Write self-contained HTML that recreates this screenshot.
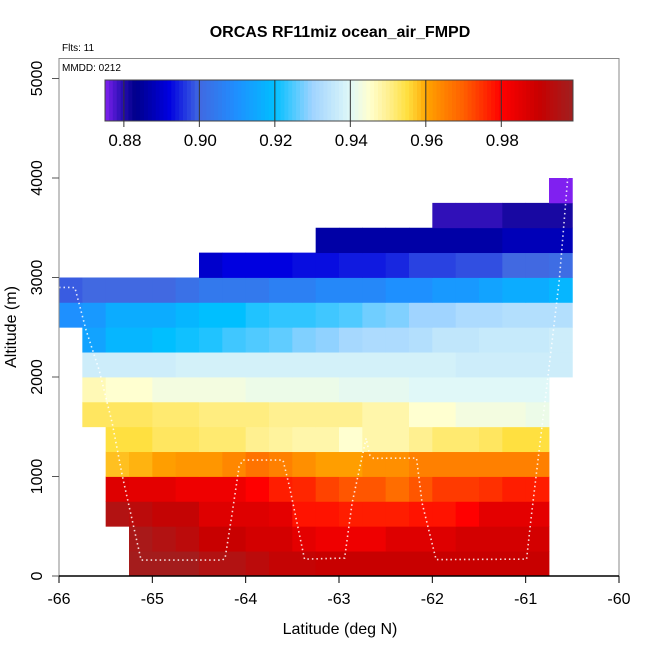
<!DOCTYPE html>
<html><head><meta charset="utf-8"><style>
html,body{margin:0;padding:0;background:#fff;}
svg{display:block;font-family:"Liberation Sans",Arial,sans-serif;}
</style></head><body>
<svg id="chart" width="650" height="650" viewBox="0 0 650 650" xmlns="http://www.w3.org/2000/svg">
<text x="340" y="37" text-anchor="middle" font-size="16" font-weight="bold">ORCAS RF11miz ocean_air_FMPD</text>
<text x="62" y="51" font-size="10">Flts: 11</text>
<g id="heat"></g>
<g id="track"></g>
<rect x="59" y="58.5" width="560" height="517.5" fill="none" stroke="#888" stroke-width="1"/>
<text x="62" y="71" font-size="10">MMDD: 0212</text>
<g id="cbar"></g>
<line x1="59" y1="576" x2="619" y2="576" stroke="#000" stroke-width="1.5"/>
<g id="axes"></g>
<text x="340" y="634" text-anchor="middle" font-size="16">Latitude (deg N)</text>
<text transform="translate(16,327) rotate(-90)" text-anchor="middle" font-size="16">Altitude (m)</text>
</svg>
<script>
// ---- data ----
const rowStartCol = [3,3,2,2,2,2,1,1,1,1,0,0,6,11,16,21];
const rowValues = [
 [0.998,0.998,0.998,0.995,0.995,0.993,0.991,0.991,0.990,0.990,0.990,0.990,0.990,0.990,0.990,0.990,0.990,0.990],
 [0.997,0.995,0.993,0.990,0.990,0.988,0.988,0.985,0.983,0.983,0.983,0.986,0.986,0.986,0.988,0.988,0.988,0.988],
 [0.995,0.993,0.991,0.991,0.986,0.986,0.986,0.985,0.978,0.978,0.977,0.977,0.977,0.978,0.978,0.980,0.985,0.985,0.985],
 [0.986,0.985,0.985,0.983,0.983,0.983,0.980,0.977,0.976,0.973,0.971,0.971,0.968,0.971,0.974,0.974,0.975,0.977,0.977],
 [0.958,0.959,0.961,0.962,0.962,0.964,0.967,0.965,0.963,0.961,0.961,0.963,0.963,0.965,0.965,0.965,0.965,0.965,0.965],
 [0.955,0.955,0.953,0.953,0.952,0.952,0.950,0.949,0.948,0.948,0.945,0.948,0.948,0.950,0.952,0.952,0.953,0.955,0.955],
 [0.953,0.953,0.953,0.952,0.952,0.951,0.951,0.951,0.950,0.950,0.950,0.950,0.948,0.948,0.945,0.945,0.943,0.943,0.943,0.942],
 [0.947,0.945,0.945,0.943,0.943,0.943,0.943,0.942,0.942,0.942,0.942,0.941,0.941,0.941,0.940,0.940,0.940,0.940,0.940,0.940],
 [0.937,0.937,0.937,0.937,0.938,0.938,0.938,0.938,0.938,0.938,0.938,0.938,0.938,0.938,0.938,0.938,0.937,0.937,0.937,0.937,0.937],
 [0.914,0.918,0.918,0.920,0.921,0.922,0.924,0.925,0.926,0.928,0.929,0.931,0.932,0.932,0.933,0.935,0.935,0.936,0.936,0.936,0.937],
 [0.910,0.912,0.916,0.916,0.916,0.918,0.920,0.920,0.922,0.923,0.923,0.924,0.925,0.927,0.928,0.930,0.930,0.932,0.932,0.933,0.933,0.933],
 [0.899,0.900,0.900,0.900,0.900,0.902,0.904,0.904,0.904,0.906,0.906,0.908,0.908,0.908,0.910,0.910,0.912,0.912,0.914,0.916,0.916,0.918],
 [0.890,0.892,0.892,0.892,0.893,0.893,0.894,0.894,0.895,0.897,0.897,0.898,0.898,0.900,0.900,0.901],
 [0.886,0.886,0.886,0.886,0.886,0.886,0.886,0.886,0.888,0.888,0.888],
 [0.879,0.879,0.879,0.881,0.881,0.881],
 [0.875]
];
const trackLon = [-66,-65.87,-65.83,-65.71,-65.57,-65.43,-65.32,-65.12,-64.25,-64.22,-64.15,-64.07,-64.03,-63.6,-63.53,-63.37,-62.94,-62.86,-62.71,-62.67,-62.63,-62.17,-62.11,-61.96,-60.99,-60.94,-60.74,-60.64,-60.55];
const trackAlt = [2900,2900,2897,2470,2070,1537,998,160,160,180,600,1100,1165,1165,897,170,180,733,1384,1215,1183,1185,733,165,170,600,2170,2975,4000];
const xTicks = [-66,-65,-64,-63,-62,-61,-60];
const yTicks = [0,1000,2000,3000,4000,5000];
const cbTicks = [0.88,0.90,0.92,0.94,0.96,0.98];
const cellW = 0.25, cellH = 250, gridLon0 = -66;
const vmin = 0.875, vmax = 0.999;
// ---- scales ----
const X = lon => 59 + (lon + 66) * 93.333;
const Y = alt => 576 - alt * 0.0995;
const CB = v => 105 + (v - vmin) / (vmax - vmin) * 468;
const stops = [[0.875,'#8020f0'],[0.879,'#3010b8'],[0.883,'#00008b'],[0.888,'#0000b8'],[0.892,'#0000e0'],[0.90,'#4169e1'],[0.91,'#1e90ff'],[0.92,'#00bfff'],[0.93,'#a0d4ff'],[0.94,'#e0f8f8'],[0.945,'#ffffd0'],[0.95,'#fff090'],[0.955,'#ffe040'],[0.958,'#ffc020'],[0.96,'#ffa500'],[0.965,'#ff8000'],[0.97,'#ff6000'],[0.98,'#ff0000'],[0.99,'#c80000'],[0.999,'#a02020']];
function hex(h){return [1,3,5].map(i=>parseInt(h.substr(i,2),16));}
function color(v){
  if(v<=stops[0][0]) return stops[0][1];
  for(let i=1;i<stops.length;i++){
    if(v<=stops[i][0]){
      const a=hex(stops[i-1][1]),b=hex(stops[i][1]),t=(v-stops[i-1][0])/(stops[i][0]-stops[i-1][0]);
      return 'rgb('+a.map((c,k)=>Math.round(c+(b[k]-c)*t)).join(',')+')';
    }
  }
  return stops[stops.length-1][1];
}
const NS='http://www.w3.org/2000/svg';
function mk(tag,attrs,parent){const e=document.createElementNS(NS,tag);for(const k in attrs)e.setAttribute(k,attrs[k]);parent.appendChild(e);return e;}
// ---- heatmap ----
const heat=document.getElementById('heat');
rowValues.forEach((vals,r)=>{
  vals.forEach((v,j)=>{
    const c=rowStartCol[r]+j;
    const lon=gridLon0+c*cellW, alt=r*cellH;
    const x0=X(lon), x1=X(lon+cellW), y0=Y(alt+cellH), y1=Y(alt);
    const el=mk('rect',{x:x0.toFixed(2),y:y0.toFixed(2),width:(x1-x0+0.4).toFixed(2),height:(y1-y0+0.4).toFixed(2),fill:color(v)},heat);
    
    
  });
});
// ---- track ----
const tr=document.getElementById('track');
const pl=mk('polyline',{points:trackLon.map((l,i)=>X(l).toFixed(1)+','+Y(trackAlt[i]).toFixed(1)).join(' '),fill:'none',stroke:'#fff','stroke-width':'1.6','stroke-dasharray':'1.5 3',opacity:'0.85'},tr);


// ---- axes ----
const ax=document.getElementById('axes');
xTicks.forEach(t=>{
  const l=mk('line',{x1:X(t),y1:576,x2:X(t),y2:583,stroke:'#000','stroke-width':'1'},ax);
  
  
  const tx=mk('text',{x:X(t),y:604,'text-anchor':'middle','font-size':'16'},ax);
  tx.textContent=String(t);
  
  
});
yTicks.forEach(t=>{
  const l=mk('line',{x1:52,y1:Y(t),x2:59,y2:Y(t),stroke:'#555','stroke-width':'1'},ax);
  
  
  const tx=mk('text',{transform:'translate(42,'+Y(t)+') rotate(-90)','text-anchor':'middle','font-size':'16'},ax);
  tx.textContent=String(t);
  
  
});
// ---- colorbar ----
const cb=document.getElementById('cbar');
const N=120;
for(let i=0;i<N;i++){
  const v=vmin+(vmax-vmin)*(i+0.5)/N;
  const x0=105+468*i/N;
  const r=mk('rect',{x:x0.toFixed(2),y:80,width:(468/N+0.5).toFixed(2),height:41,fill:color(v)},cb);
  
  
}
const fr=mk('rect',{x:105,y:80,width:468,height:41,fill:'none',stroke:'#444','stroke-width':'1'},cb);


cbTicks.forEach(t=>{
  const l=mk('line',{x1:CB(t),y1:80,x2:CB(t),y2:127,stroke:'#333','stroke-width':'1'},cb);
  
  
  const tx=mk('text',{x:CB(t)+1,y:146,'text-anchor':'middle','font-size':'17'},cb);
  tx.textContent=t.toFixed(2);
  
  
});
</script>
</body></html>
